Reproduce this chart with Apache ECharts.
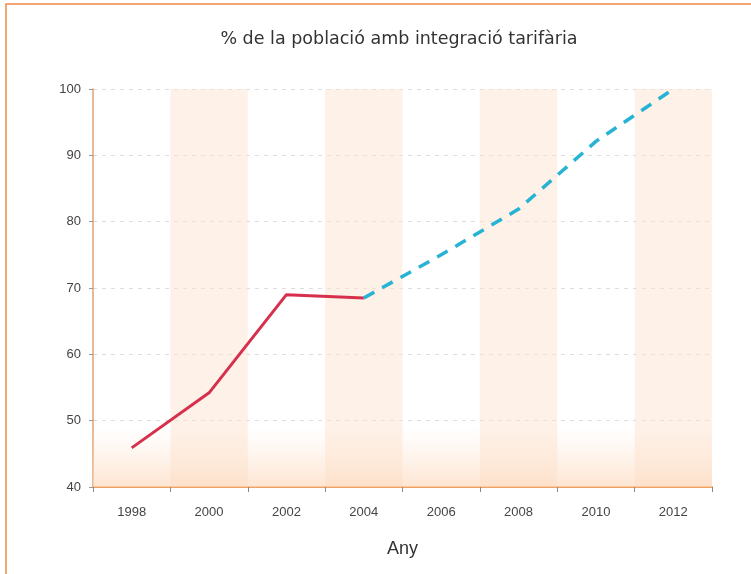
<!DOCTYPE html>
<html>
<head>
<meta charset="utf-8">
<script src="https://cdn.jsdelivr.net/npm/echarts@6/dist/echarts.min.js"></script>
<style>
  html,body{margin:0;padding:0;background:#fff;}
  #main{width:751px;height:574px;}
</style>
</head>
<body>
<div id="main"></div>
<script>
// dades
var anys = ['1998','2000','2002','2004','2006','2008','2010','2012'];
var real = [45.9, 54.2, 69.0, 68.5, null, null, null, null];
var previsio = [null, null, null, 68.5, 75.0, 81.9, 92.1, 100];

var chart = echarts.init(document.getElementById('main'));
chart.setOption({
  backgroundColor: '#fff',
  animation: false,
  title: {
    text: '% de la població amb integració tarifària',
    left: 394, top: 25, textAlign: 'center',
    textStyle: {fontFamily: 'DejaVu Sans', fontSize: 17.5, fontWeight: 'normal', color: '#333'}
  },
  graphic: [{
    type: 'rect', shape: {x: 6, y: 4, width: 800, height: 600},
    style: {fill: 'none', stroke: '#f08a4b', lineWidth: 1.5}, silent: true
  }],
  grid: {left: 93, right: 39, top: 89, bottom: 87},
  xAxis: {
    type: 'category', data: anys, boundaryGap: true,
    name: 'Any', nameLocation: 'middle', nameGap: 53,
    nameTextStyle: {fontFamily: 'Liberation Sans', fontSize: 18, color: '#333'},
    axisLine: {lineStyle: {color: '#f0a060', width: 2}},
    axisTick: {show: true, length: 5, lineStyle: {color: '#888'}},
    axisLabel: {fontFamily: 'Liberation Sans', fontSize: 13, color: '#444', margin: 19},
    splitLine: {show: false},
    splitArea: {show: true, areaStyle: {color: ['rgba(255,255,255,0)', 'rgba(253,228,208,0.5)']}}
  },
  yAxis: {
    type: 'value', min: 40, max: 100, interval: 10,
    axisLine: {show: true, lineStyle: {color: '#e2a070', width: 1.5}},
    axisTick: {show: true, length: 4, lineStyle: {color: '#999'}},
    axisLabel: {fontFamily: 'Liberation Sans', fontSize: 13, color: '#444', margin: 12},
    splitLine: {show: true, lineStyle: {color: '#ddd', type: [4, 5]}}
  },
  series: [{
    type: 'line', data: real, symbol: 'none', z: 3,
    lineStyle: {color: '#d7304c', width: 3},
    markArea: {
      silent: true,
      itemStyle: {
        color: new echarts.graphic.LinearGradient(0, 0, 0, 1, [
          {offset: 0, color: 'rgba(253,228,208,0)'},
          {offset: 1, color: 'rgba(253,218,190,0.7)'}
        ])
      },
      data: [[{yAxis: 49}, {yAxis: 40}]]
    }
  }, {
    type: 'line', data: previsio, symbol: 'none', z: 3,
    lineStyle: {color: '#27b3d3', width: 3.5, type: [12, 9]}
  }]
});
</script>
</body>
</html>
